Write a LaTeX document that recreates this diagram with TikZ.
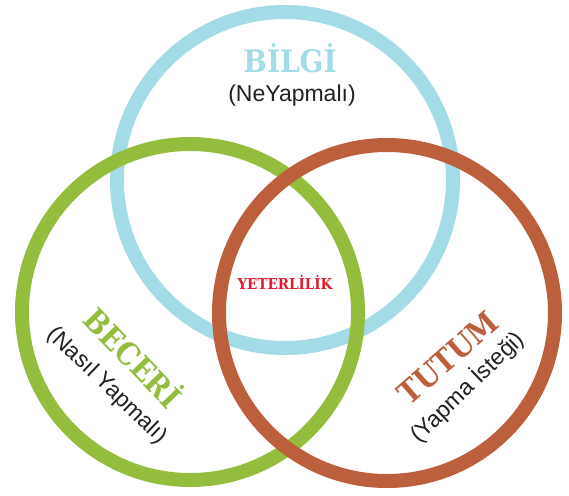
\documentclass[tikz,border=0pt]{standalone}
\usepackage{fontspec}
\setmainfont{Liberation Sans}
\newfontfamily\slabfont{DejaVu Serif Condensed}
\usetikzlibrary{positioning}

\definecolor{bilgiblue}{HTML}{A3DCE6}
\definecolor{beceriGreen}{HTML}{95BD3D}
\definecolor{tutumBrown}{HTML}{BC5F3D}
\definecolor{yeterRed}{HTML}{E3182D}
\definecolor{darktext}{HTML}{231F20}

\tikzset{
  ring/.style={circle,draw,line width=14pt,minimum size=336pt,inner sep=0pt},
  title/.style={font=\slabfont\bfseries\fontsize{31}{31}\selectfont,inner sep=0pt},
  subtitle/.style={font=\fontsize{23}{23}\selectfont,text=darktext,inner sep=0pt}
}

\begin{document}
\begin{tikzpicture}[x=1pt,y=-1pt]
      \useasboundingbox (0,0) rectangle (569,495);

      % the three rings
      \node[ring,bilgiblue] (bilgi) at (285,180) {};
      \node[ring,beceriGreen] (beceri) at (190,312) {};
      \node[ring,tutumBrown] (tutum) at (387,313) {};

      % top ring
      \node[title,text=bilgiblue] (bilgiTitle) at (290,58) {BİLGİ};
      \node[subtitle] (bilgiSub) at (292,96) {(NeYapmalı)};

      % middle
      \node[font=\slabfont\bfseries\fontsize{15}{15}\selectfont,text=yeterRed] (yeter) at (285,282) {YETERLİLİK};

      % left ring
      \node[title,text=beceriGreen,rotate=-46] (beceriTitle) at (135,356) {BECERİ};
      \node[subtitle,rotate=-44] (beceriSub) at (107,386) {(Nasıl Yapmalı)};

      % right ring
      \node[title,text=tutumBrown,rotate=41] (tutumTitle) at (448,358) {TUTUM};
      \node[subtitle,rotate=44] (tutumSub) at (467,387) {(Yapma İsteği)};
\end{tikzpicture}
\end{document}
